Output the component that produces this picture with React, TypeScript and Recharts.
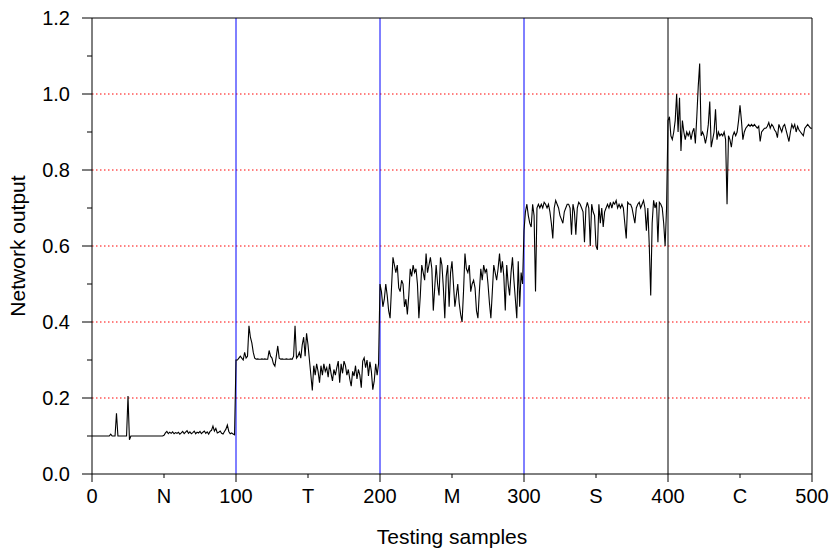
import React from "react";
import {
  Label,
  Line,
  LineChart,
  ReferenceLine,
  XAxis,
  YAxis,
} from "recharts";

// network output per testing sample, one array per class block
const normalOut = [
  0.1, 0.1, 0.1, 0.1, 0.1, 0.1, 0.1, 0.1, 0.1, 0.1,
  0.1, 0.1, 0.1, 0.105, 0.1, 0.1, 0.1, 0.16, 0.1, 0.1,
  0.1, 0.1, 0.1, 0.1, 0.1, 0.205, 0.09, 0.1, 0.1, 0.1,
  0.1, 0.1, 0.1, 0.1, 0.1, 0.1, 0.1, 0.1, 0.1, 0.1,
  0.1, 0.1, 0.1, 0.1, 0.1, 0.1, 0.1, 0.1, 0.1, 0.1,
  0.102, 0.108, 0.112, 0.106, 0.11, 0.107, 0.111, 0.106, 0.109, 0.107,
  0.11, 0.105, 0.108, 0.112, 0.106, 0.11, 0.114, 0.107, 0.111, 0.106,
  0.109, 0.113, 0.106, 0.11, 0.108, 0.112, 0.106, 0.11, 0.113, 0.107,
  0.111, 0.105, 0.112, 0.115, 0.126, 0.113, 0.12, 0.108, 0.11, 0.113,
  0.107, 0.105, 0.112, 0.118, 0.129, 0.112, 0.106, 0.108, 0.105, 0.103,
];

const tOut = [
  0.3, 0.3, 0.305, 0.31, 0.305, 0.3, 0.32, 0.305, 0.31, 0.39,
  0.36, 0.345, 0.32, 0.305, 0.302, 0.303, 0.302, 0.302, 0.303, 0.302,
  0.303, 0.302, 0.302, 0.325, 0.31, 0.305, 0.29, 0.284, 0.31, 0.337,
  0.305, 0.302, 0.303, 0.302, 0.302, 0.303, 0.302, 0.302, 0.303, 0.302,
  0.31, 0.39, 0.305, 0.31, 0.32, 0.305, 0.34, 0.36, 0.31, 0.37,
  0.34, 0.3, 0.26, 0.22, 0.285, 0.26, 0.29, 0.27, 0.24, 0.285,
  0.26, 0.29, 0.27, 0.28, 0.255, 0.29, 0.265, 0.245, 0.275, 0.26,
  0.28, 0.297, 0.24, 0.29, 0.265, 0.297, 0.285, 0.26, 0.275, 0.25,
  0.231, 0.27, 0.258, 0.285, 0.25, 0.275, 0.26, 0.227, 0.297, 0.306,
  0.28, 0.3, 0.258, 0.295, 0.27, 0.222, 0.245, 0.29, 0.26, 0.29,
];

const mOut = [
  0.5, 0.48, 0.44, 0.46, 0.5, 0.47, 0.43, 0.41, 0.49, 0.57,
  0.55, 0.53, 0.55, 0.49, 0.48, 0.51, 0.5, 0.44, 0.46, 0.42,
  0.47, 0.54, 0.52, 0.55, 0.53, 0.54, 0.5, 0.41, 0.47, 0.55,
  0.53, 0.51, 0.58, 0.53, 0.55, 0.57, 0.54, 0.43, 0.49, 0.55,
  0.5, 0.47, 0.57, 0.55, 0.49, 0.41, 0.52, 0.55, 0.44, 0.53,
  0.56, 0.5, 0.44, 0.47, 0.5, 0.45, 0.42, 0.4, 0.48, 0.58,
  0.54, 0.53, 0.55, 0.48, 0.5, 0.51, 0.49, 0.43, 0.41, 0.48,
  0.54, 0.51, 0.55, 0.53, 0.54, 0.5, 0.45, 0.41, 0.48, 0.55,
  0.53, 0.51, 0.54, 0.58, 0.53, 0.56, 0.52, 0.43, 0.55, 0.5,
  0.47, 0.53, 0.57, 0.51, 0.46, 0.41, 0.56, 0.44, 0.53, 0.5,
];

const sOut = [
  0.64, 0.69, 0.71, 0.68, 0.66, 0.65, 0.71, 0.68, 0.48, 0.7,
  0.71, 0.7, 0.71, 0.7, 0.715, 0.71, 0.7, 0.71, 0.69, 0.66,
  0.62, 0.7, 0.72, 0.71, 0.7, 0.68, 0.67, 0.66, 0.69, 0.7,
  0.71, 0.71, 0.7, 0.63, 0.71, 0.69, 0.63, 0.7, 0.715, 0.71,
  0.7, 0.69, 0.61, 0.7, 0.715, 0.7, 0.6, 0.71, 0.69, 0.68,
  0.6, 0.59, 0.71, 0.66, 0.7, 0.65, 0.69, 0.7, 0.71, 0.7,
  0.715, 0.7, 0.715, 0.71, 0.72, 0.7, 0.71, 0.7, 0.71, 0.7,
  0.66, 0.62, 0.715, 0.71, 0.71, 0.7, 0.68, 0.66, 0.7, 0.71,
  0.715, 0.7, 0.71, 0.72, 0.7, 0.64, 0.7, 0.6, 0.47, 0.66,
  0.72, 0.7, 0.715, 0.61, 0.715, 0.71, 0.7, 0.66, 0.6, 0.7,
];

const cOut = [
  0.93, 0.94, 0.89, 0.88, 0.9, 0.93, 1.0, 0.9, 0.99, 0.85,
  0.93, 0.9, 0.88, 0.9, 0.89, 0.9, 0.88, 0.9, 0.91, 0.87,
  0.94, 1.02, 1.08, 0.89, 0.9, 0.89, 0.87, 0.89, 0.92, 0.98,
  0.86, 0.88, 0.9, 0.96, 0.88, 0.9, 0.89, 0.895, 0.89, 0.9,
  0.88, 0.71, 0.89, 0.88, 0.86, 0.89, 0.9, 0.89, 0.9, 0.93,
  0.97, 0.93, 0.88, 0.9, 0.91, 0.915, 0.92, 0.915, 0.92, 0.915,
  0.92, 0.915, 0.91, 0.915, 0.875, 0.9, 0.905, 0.91, 0.91, 0.915,
  0.925, 0.91, 0.92, 0.915, 0.905, 0.9, 0.885, 0.92, 0.91, 0.9,
  0.915, 0.92, 0.905, 0.89, 0.875, 0.9, 0.92, 0.91, 0.92, 0.9,
  0.915, 0.905, 0.9, 0.895, 0.89, 0.91, 0.915, 0.92, 0.915, 0.91,
  0.91,
];

const yTicks = [0, 0.1, 0.2, 0.3, 0.4, 0.5, 0.6, 0.7, 0.8, 0.9, 1.0, 1.1, 1.2];
const xTicks = [0, 50, 100, 150, 200, 250, 300, 350, 400, 450, 500];
const xTickNames: Record<number, string> = {
  50: "N",
  150: "T",
  250: "M",
  350: "S",
  450: "C",
};
const gridLevels = [0.2, 0.4, 0.6, 0.8, 1.0];
const blueSplits = [100, 200, 300];

const data = [...normalOut, ...tOut, ...mOut, ...sOut, ...cOut].map((y, i) => ({
  x: i,
  y,
}));

const font = "'Liberation Sans', Arial, Helvetica, sans-serif";

function YTick(props: any) {
  const { x, y, payload } = props;
  const v = payload.value as number;
  const major = Math.round(v * 10) % 2 === 0;
  return (
    <g>
      <line x1={x + (major ? 12 : 17)} x2={x + 22} y1={y} y2={y} stroke="#000" />
      {major && (
        <text x={x} y={y} dy="0.36em" textAnchor="end" fontSize={20} fontFamily={font} fill="#000">
          {v.toFixed(1)}
        </text>
      )}
    </g>
  );
}

function XTick(props: any) {
  const { x, y, payload } = props;
  const v = payload.value as number;
  const major = v % 100 === 0;
  return (
    <g>
      <line x1={x} x2={x} y1={y - 15} y2={y - (major ? 7 : 11)} stroke="#000" />
      <text x={x} y={y} dy="0.71em" textAnchor="middle" fontSize={20} fontFamily={font} fill="#000">
        {xTickNames[v] ?? String(v)}
      </text>
    </g>
  );
}

export default function App() {
  return (
    <div style={{ position: "absolute", left: 0, top: 0 }}>
      <LineChart
        width={831}
        height={551}
        data={data}
        margin={{ top: 18, right: 19, left: 0, bottom: 0 }}
        style={{ fontFamily: font }}
      >
        <XAxis
          dataKey="x"
          type="number"
          domain={[0, 500]}
          ticks={xTicks}
          interval={0}
          height={77}
          tickSize={8}
          tickMargin={7}
          tickLine={{ stroke: "none" }}
          axisLine={{ stroke: "#000" }}
          tick={<XTick />}
        >
          <Label
            value="Testing samples"
            position="insideBottom"
            offset={7}
            style={{ fontSize: 21, fontFamily: font, fill: "#000" }}
          />
        </XAxis>
        <YAxis
          type="number"
          domain={[0, 1.2]}
          ticks={yTicks}
          interval={0}
          width={92}
          tickSize={10}
          tickMargin={12}
          tickLine={{ stroke: "none" }}
          axisLine={{ stroke: "#000" }}
          tick={<YTick />}
        >
          <Label
            content={(p: any) => {
              const vb = p.viewBox;
              const cx = vb.x + 17;
              const cy = vb.y + vb.height / 2;
              return (
                <text
                  x={cx}
                  y={cy}
                  transform={`rotate(-90 ${cx} ${cy})`}
                  textAnchor="middle"
                  dominantBaseline="central"
                  fontSize={21}
                  fontFamily={font}
                  fill="#000"
                >
                  Network output
                </text>
              );
            }}
          />
        </YAxis>
        {gridLevels.map((v) => (
          <ReferenceLine key={v} y={v} stroke="#ff0000" strokeDasharray="1.5 2.5" />
        ))}
        {blueSplits.map((v) => (
          <ReferenceLine key={v} x={v} stroke="#0000ff" />
        ))}
        <ReferenceLine x={400} stroke="#000" />
        <ReferenceLine y={1.2} stroke="#000" />
        <ReferenceLine x={500} stroke="#000" />
        <Line
          type="linear"
          dataKey="y"
          stroke="#000"
          strokeWidth={1.1}
          dot={false}
          isAnimationActive={false}
        />
      </LineChart>
    </div>
  );
}
